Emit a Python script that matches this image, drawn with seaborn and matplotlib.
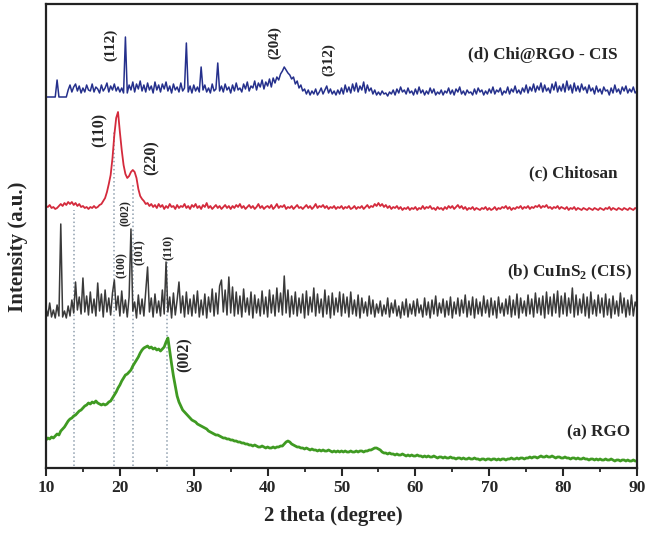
import numpy as np
import pandas as pd
import seaborn as sns
import matplotlib.pyplot as plt

# --- dados (intensidade em unidades arbitrárias, passo de 0.25 grau de 10 a 90) ---
theta = np.linspace(10, 90, 321)

# (d) Chi@RGO - CIS
int_d = [
    371, 371, 371, 371, 371, 371, 388, 371, 371, 371, 371, 371, 378, 383, 376, 381, 384, 377, 382, 375,  # 10
    380, 376, 383, 378, 377, 384, 376, 381, 379, 375, 383, 377, 380, 385, 376, 382, 378, 384, 377, 381,  # 15
    376, 380, 375, 431, 375, 383, 378, 386, 376, 384, 379, 387, 377, 383, 376, 385, 378, 382, 375, 386,  # 20
    378, 383, 376, 384, 379, 386, 377, 382, 375, 384, 378, 381, 376, 385, 377, 380, 425, 376, 382, 375,  # 25
    383, 377, 381, 376, 401, 378, 383, 376, 380, 375, 384, 377, 379, 405, 377, 382, 376, 384, 378, 381,  # 30
    375, 383, 377, 385, 378, 380, 376, 384, 379, 386, 377, 382, 380, 387, 378, 385, 381, 388, 379, 386,  # 35
    382, 389, 381, 390, 385, 391, 388, 394, 397, 401, 398, 395, 393, 389, 391, 384, 387, 380, 383, 377,  # 40
    379, 374, 378, 373, 377, 374, 379, 373, 376, 380, 374, 378, 382, 375, 379, 374, 377, 373, 378, 374,  # 45
    380, 374, 383, 376, 381, 375, 384, 377, 385, 376, 382, 378, 386, 375, 383, 377, 380, 374, 378, 373,  # 50
    376, 373, 377, 374, 375, 372, 376, 374, 378, 373, 379, 375, 381, 376, 378, 374, 380, 375, 377, 373,  # 55
    379, 374, 381, 375, 378, 373, 377, 374, 380, 375, 379, 373, 376, 374, 378, 373, 377, 375, 380, 374,  # 60
    378, 373, 379, 376, 381, 374, 377, 373, 378, 375, 376, 373, 379, 374, 380, 376, 378, 373, 377, 374,  # 65
    379, 375, 381, 374, 378, 376, 380, 373, 377, 375, 381, 374, 379, 376, 382, 375, 378, 374, 380, 376,  # 70
    383, 375, 381, 377, 384, 376, 382, 378, 385, 376, 383, 377, 380, 375, 384, 378, 386, 376, 382, 377,  # 75
    384, 376, 387, 378, 383, 375, 385, 377, 382, 376, 384, 378, 381, 375, 383, 377, 380, 374, 382, 376,  # 80
    379, 374, 381, 377, 378, 373, 380, 375, 383, 376, 379, 374, 381, 377, 382, 375, 379, 376, 381, 375,  # 85
    377,
]

# (c) Chitosan
int_c = [
    262, 261, 263, 260, 261, 259, 260, 262, 264, 262, 265, 263, 266, 264, 266, 263, 265, 262, 264, 261,
    262, 260, 261, 259, 261, 260, 262, 260, 261, 263, 264, 267, 270, 276, 284, 293, 310, 333, 350, 356,
    336, 318, 303, 294, 290, 292, 296, 298, 296, 290, 279, 272, 269, 267, 264, 265, 262, 264, 261, 263,
    260, 264, 261, 263, 259, 262, 260, 264, 261, 262, 259, 263, 260, 262, 261, 264, 260, 262, 259, 263,
    261, 264, 260, 262, 259, 263, 261, 265, 260, 262, 259, 261, 263, 260, 262, 259, 261, 263, 260, 262,
    259, 262, 260, 263, 261, 264, 260, 262, 259, 261, 263, 260, 262, 259, 261, 264, 260, 262, 259, 261,
    262, 260, 263, 259, 261, 264, 260, 262, 261, 263, 259, 261, 260, 262, 259, 261, 263, 260, 261, 259,
    261, 263, 260, 262, 259, 261, 264, 260, 262, 261, 263, 260, 262, 259, 261, 260, 262, 259, 261, 260,
    262, 259, 261, 260, 262, 259, 260, 262, 259, 261, 260, 262, 259, 261, 263, 260, 262, 261, 264, 262,
    265, 262, 264, 261, 263, 260, 262, 259, 261, 260, 262, 259, 261, 258, 260, 259, 261, 258, 260, 259,
    261, 258, 260, 259, 262, 259, 261, 260, 262, 259, 260, 258, 261, 259, 260, 258, 261, 259, 262, 260,
    262, 259, 261, 263, 260, 262, 259, 261, 258, 260, 259, 261, 258, 260, 259, 258, 260, 259, 261, 258,
    260, 258, 259, 261, 258, 260, 259, 261, 260, 262, 259, 261, 258, 260, 259, 261, 260, 262, 259, 261,
    260, 262, 259, 261, 260, 262, 261, 263, 260, 262, 261, 263, 260, 261, 259, 261, 260, 262, 259, 261,
    260, 259, 261, 258, 260, 259, 261, 258, 260, 259, 258, 260, 259, 258, 260, 259, 258, 260, 259, 258,
    260, 259, 258, 260, 259, 261, 258, 260, 259, 258, 260, 259, 258, 260, 259, 258, 260, 259, 258, 260,
    259,
]

# (b) CuInS2 (CIS)
int_b = [
    160, 152, 165, 151, 158, 150, 163, 152, 244, 151, 157, 150, 162, 152, 168, 155, 186, 158, 171, 154,
    190, 156, 172, 153, 176, 155, 169, 152, 185, 157, 174, 151, 178, 156, 170, 153, 175, 188, 158, 172,
    152, 177, 155, 168, 151, 171, 239, 157, 166, 150, 173, 154, 169, 152, 176, 201, 156, 170, 151, 174,
    155, 167, 152, 178, 154, 206, 156, 171, 150, 175, 153, 168, 186, 155, 172, 151, 176, 154, 169, 152,
    173, 155, 177, 151, 168, 153, 174, 150, 171, 156, 179, 152, 175, 154, 182, 188, 156, 178, 153, 191,
    155, 181, 152, 176, 154, 172, 151, 179, 156, 170, 153, 176, 150, 173, 155, 169, 152, 177, 154, 171,
    151, 178, 155, 173, 152, 180, 156, 175, 153, 192, 155, 178, 151, 172, 154, 176, 152, 170, 155, 174,
    150, 177, 153, 171, 156, 180, 152, 174, 155, 169, 151, 178, 154, 172, 150, 175, 153, 170, 156, 176,
    152, 174, 155, 171, 151, 176, 154, 168, 152, 173, 150, 170, 155, 166, 152, 172, 154, 168, 151, 164,
    155, 167, 152, 163, 154, 170, 151, 165, 155, 168, 152, 162, 150, 166, 153, 169, 151, 164, 154, 167,
    152, 169, 155, 163, 151, 170, 153, 166, 150, 168, 154, 172, 152, 165, 155, 169, 151, 167, 153, 171,
    150, 166, 154, 170, 152, 168, 155, 173, 151, 167, 153, 171, 150, 169, 154, 166, 152, 172, 155, 168,
    151, 170, 153, 167, 150, 171, 155, 165, 152, 169, 154, 172, 151, 168, 153, 174, 150, 170, 155, 167,
    152, 173, 154, 169, 151, 175, 155, 170, 153, 172, 150, 176, 154, 171, 152, 174, 155, 177, 151, 172,
    154, 175, 152, 170, 155, 180, 151, 173, 153, 169, 155, 174, 152, 171, 150, 176, 154, 168, 152, 173,
    155, 170, 151, 174, 153, 169, 150, 172, 154, 167, 152, 175, 155, 170, 151, 168, 153, 173, 152, 166,
    160,
]

# (a) RGO
int_a = [
    28, 30, 29, 31, 30, 32, 34, 33, 37, 39, 41, 44, 47, 49, 50, 52, 53, 55, 57, 58,
    60, 62, 63, 65, 64, 66, 65, 67, 65, 64, 63, 64, 63, 64, 66, 67, 70, 73, 76, 80,
    83, 87, 90, 93, 94, 96, 98, 102, 105, 108, 111, 115, 118, 120, 121, 122, 120, 121, 119, 120,
    118, 119, 117, 119, 121, 126, 130, 117, 104, 92, 82, 72, 66, 62, 58, 56, 54, 52, 50, 48,
    47, 46, 44, 43, 42, 41, 40, 39, 37, 36, 35, 34, 33, 33, 32, 31, 30, 30, 29, 29,
    28, 28, 27, 27, 26, 26, 25, 25, 24, 24, 23, 23, 22, 23, 22, 21, 21, 22, 21, 20,
    21, 20, 20, 21, 20, 21, 21, 22, 22, 24, 26, 27, 26, 24, 23, 22, 21, 21, 20, 20,
    19, 20, 19, 18, 19, 18, 18, 17, 18, 17, 18, 17, 17, 18, 17, 16, 17, 16, 17, 16,
    17, 16, 17, 16, 16, 17, 16, 16, 17, 16, 17, 17, 16, 17, 17, 18, 18, 19, 20, 20,
    19, 18, 16, 15, 15, 14, 15, 14, 14, 13, 14, 13, 13, 14, 13, 12, 13, 12, 13, 12,
    12, 13, 12, 12, 11, 12, 11, 12, 11, 11, 12, 11, 10, 11, 11, 10, 11, 10, 10, 11,
    10, 10, 9, 10, 10, 9, 10, 9, 9, 10, 9, 9, 10, 9, 9, 8, 9, 9, 8, 9,
    9, 8, 9, 9, 8, 9, 8, 9, 9, 8, 9, 9, 10, 9, 9, 10, 9, 10, 10, 9,
    10, 10, 11, 10, 11, 11, 10, 11, 12, 11, 11, 12, 11, 11, 12, 11, 10, 11, 11, 10,
    10, 11, 10, 10, 9, 10, 10, 9, 10, 9, 9, 10, 9, 9, 8, 9, 9, 8, 9, 8,
    9, 8, 8, 9, 8, 8, 9, 8, 7, 8, 8, 7, 8, 8, 7, 8, 7, 7, 8, 7,
    7,
]

# linhas pontilhadas de referência
ref_pos = [13.8, 19.2, 21.8, 26.4]
ref_top = [258, 338, 283, 206]

# nomes das amostras
nomes = ['(d) Chi@RGO - CIS', '(c) Chitosan', r'(b) CuInS$_\mathbf{2}$ (CIS)', '(a) RGO']
nomes_x = [87.4, 87.4, 89.3, 89.05]
nomes_y = [413, 295, 196, 36]

# índices de Miller
hkl = ['(112)', '(204)', '(312)', '(110)', '(220)', '(100)', '(002)', '(101)', '(110)', '(002)']
hkl_x = [18.7, 41.0, 48.2, 17.2, 24.3, 20.3, 20.8, 22.7, 26.6, 28.8]
hkl_y = [423, 425, 408, 338, 310, 203, 255, 216, 221, 113]
hkl_size = [11, 11, 11, 11.5, 11.5, 8.5, 8.5, 8.5, 8.5, 11.5]

# --- estilo ---
sns.set_style('ticks')
plt.rcParams['font.family'] = ['Liberation Serif', 'DejaVu Serif']
plt.rcParams['font.weight'] = 'bold'
plt.rcParams['mathtext.fontset'] = 'custom'
plt.rcParams['mathtext.bf'] = 'Liberation Serif:bold'
plt.rcParams['mathtext.rm'] = 'Liberation Serif:bold'

fig = plt.figure(figsize=(6.47, 5.4), dpi=100)
ax = fig.add_axes([46 / 647, 72 / 540, 591 / 647, 464 / 540])

# linhas de referência
for xp, yt in zip(ref_pos, ref_top):
    ax.plot([xp, xp], [2, yt], color='#8f9fae', linestyle=':', linewidth=1.1, zorder=1)

df = pd.DataFrame({'theta': theta, 'd': int_d, 'c': int_c, 'b': int_b, 'a': int_a})
cores = {'a': '#3f9a22', 'b': '#3a3a3a', 'c': '#d42a3c', 'd': '#25308c'}
larg = {'a': 2.0, 'b': 1.1, 'c': 1.3, 'd': 1.1}
for k in ['a', 'b', 'c', 'd']:
    sns.lineplot(data=df, x='theta', y=k, ax=ax, color=cores[k], linewidth=larg[k],
                 estimator=None, zorder=2)

for txt, xx, yy in zip(nomes, nomes_x, nomes_y):
    ax.text(xx, yy, txt, ha='right', va='center', fontsize=12.3, fontweight='bold')

for txt, xx, yy, s in zip(hkl, hkl_x, hkl_y, hkl_size):
    ax.text(xx, yy, txt, ha='center', va='center', rotation=90, fontsize=s, fontweight='bold')

ax.set_xlim(10, 90)
ax.set_ylim(0, 464)
ax.set_yticks([])
ax.set_xticks(range(10, 91, 10))
ax.set_xticks(range(15, 90, 10), minor=True)
ax.tick_params(axis='x', which='major', direction='out', length=6, width=1.5, labelsize=12.5, pad=3)
ax.tick_params(axis='x', which='minor', direction='out', length=3, width=1.3)
for lab in ax.get_xticklabels():
    lab.set_fontweight('bold')
for sp in ax.spines.values():
    sp.set_linewidth(1.6)
    sp.set_color('#222222')

ax.set_xlabel('2 theta (degree)', fontsize=15, fontweight='bold')
ax.set_ylabel('Intensity (a.u.)', fontsize=15, fontweight='bold')
ax.xaxis.set_label_coords((333 - 46) / 591, -38 / 464)
ax.yaxis.set_label_coords(-18 / 591, 0.476)

plt.savefig('out.png', dpi=100)
